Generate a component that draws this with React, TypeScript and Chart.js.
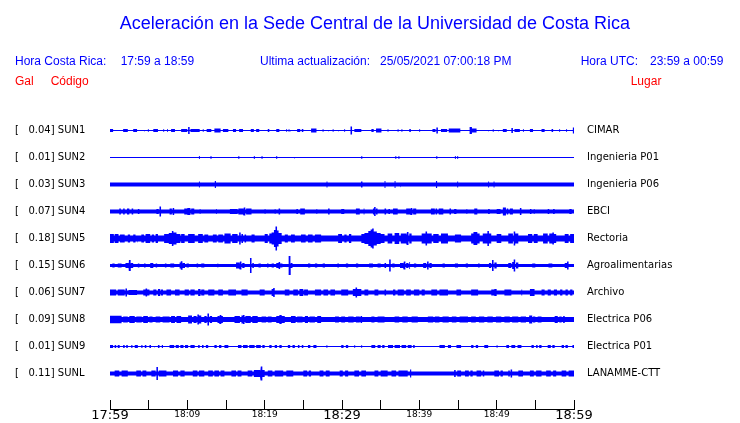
import React, { useEffect, useRef } from 'react';
import { Chart, registerables } from 'chart.js';

Chart.register(...registerables);

// ---------- texts ----------
const TITLE = 'Aceleración en la Sede Central de la Universidad de Costa Rica';
const LOCAL_TIME_LABEL = 'Hora Costa Rica:';
const LOCAL_TIME_RANGE = '17:59 a 18:59';
const UPDATE_LABEL = 'Ultima actualización:';
const UPDATE_VALUE = '25/05/2021 07:00:18 PM';
const UTC_LABEL = 'Hora UTC:';
const UTC_RANGE = '23:59 a 00:59';
const COL_GAL = 'Gal';
const COL_CODE = 'Código';
const COL_PLACE = 'Lugar';

// ---------- stations ----------
const CODES = ['SUN1', 'SUN2', 'SUN3', 'SUN4', 'SUN5', 'SUN6', 'SUN7', 'SUN8', 'SUN9', 'SUNL'];
const PEAK_GAL = ['0.04', '0.01', '0.03', '0.07', '0.18', '0.15', '0.06', '0.09', '0.01', '0.11'];
const PLACES = ['CIMAR', 'Ingenieria P01', 'Ingenieria P06', 'EBCI', 'Rectoria', 'Agroalimentarias', 'Archivo', 'Electrica P06', 'Electrica P01', 'LANAMME-CTT'];

// ---------- time axis (minutes after 17:59) ----------
const TICK_MINUTES = [0, 5, 10, 15, 20, 25, 30, 35, 40, 45, 50, 55, 60];
const TICK_LABELS = ['17:59', '', '18:09', '', '18:19', '', '18:29', '', '18:39', '', '18:49', '', '18:59'];
const MAJOR_LABELS = ['17:59', '18:29', '18:59'];

// ---------- trace envelopes: background level and bursts [start min, end min, half amplitude] ----------
const BASE_LEVEL = [0.5, 0.5, 2, 2, 3, 1.5, 2, 2.5, 0.5, 2];

const SUN1_BURSTS = [
  [0.0, 0.4, 1.5], [1.7, 2.3, 1.5], [3.0, 3.5, 1.5], [4.4, 4.5, 1.5], [4.9, 5.0, 1.5], [5.6, 6.2, 1.5],
  [6.9, 7.0, 1.5], [7.4, 7.5, 1.5], [7.9, 8.4, 1.5], [9.2, 10.0, 1.5], [10.1, 10.3, 3.5], [10.4, 11.6, 1.5],
  [12.0, 12.1, 1.5], [12.5, 13.1, 1.5], [13.5, 14.3, 2], [14.6, 15.3, 1.5], [15.9, 16.3, 1.5], [16.7, 17.2, 1.5],
  [18.2, 18.6, 1.5], [18.9, 19.3, 1.5], [20.4, 20.6, 1.5], [21.5, 21.9, 1.5], [22.8, 22.9, 1.5], [23.1, 23.2, 1.5],
  [23.3, 23.4, 1.5], [24.2, 24.6, 1.5], [24.8, 25.0, 1.5], [26.0, 26.7, 2], [27.5, 27.6, 1.5], [28.2, 28.3, 1.5],
  [28.8, 28.9, 1.5], [29.5, 29.6, 1.5], [30.3, 30.4, 1.5], [31.1, 31.3, 4], [31.6, 32.5, 1.5], [33.8, 34.1, 1.5],
  [34.4, 35.1, 2], [35.9, 36.0, 1.5], [37.2, 37.3, 1.5], [37.7, 37.8, 1.5], [38.7, 38.9, 1.5], [40.0, 40.1, 1.5],
  [41.7, 42.1, 1.5], [42.2, 42.4, 3], [42.8, 43.6, 1.5], [43.8, 45.3, 2], [46.5, 46.8, 3.5], [46.8, 47.4, 2],
  [48.9, 49.0, 1.5], [49.5, 49.6, 1.5], [50.2, 50.3, 1.5], [50.8, 51.3, 1.5], [51.9, 52.1, 2.5], [52.3, 53.0, 1.5],
  [53.4, 53.5, 1.5], [54.3, 54.7, 1.5], [55.8, 56.2, 1.5], [57.1, 57.3, 1.5], [58.1, 58.2, 1.5], [59.0, 59.1, 1.5],
  [59.85, 60, 3],
];

const SUN2_BURSTS = [
  [11.5, 11.62, 1.5], [13.0, 13.12, 1.5], [16.6, 16.72, 1.5], [18.6, 18.72, 1.5], [19.6, 19.72, 1.5],
  [21.5, 21.62, 1.5], [23.8, 23.92, 1.5], [32.5, 32.62, 1.5], [36.9, 37.02, 1.5], [37.3, 37.42, 1.5],
  [42.2, 42.32, 1.5], [44.6, 44.72, 1.5], [44.9, 45.02, 1.5],
];

const SUN3_BURSTS = [
  [11.5, 11.62, 3], [13.55, 13.7, 3.5], [28.0, 28.12, 3], [32.45, 32.65, 3], [35.5, 35.62, 3.5],
  [36.8, 36.92, 3.5], [37.5, 37.62, 3], [42.15, 42.3, 3.5], [44.9, 45.02, 3], [48.9, 49.02, 3], [49.6, 49.72, 3],
];

const SUN4_BURSTS = [
  [1.2, 1.4, 3], [1.7, 1.9, 3], [2.2, 2.5, 3], [2.8, 3.0, 3], [3.6, 3.8, 2.5],
  [6.0, 6.3, 2.5], [6.4, 6.6, 5], [7.7, 8.0, 3], [8.1, 8.3, 3.5],
  [9.6, 10.0, 3], [10.0, 10.4, 3.5], [10.5, 10.9, 3], [11.6, 11.7, 2.5], [13.7, 13.8, 2.5],
  [15.5, 16.5, 2.5], [16.6, 17.2, 3], [17.3, 17.5, 4], [17.6, 18.3, 3],
  [20.0, 20.1, 2.5], [21.3, 21.4, 2.5], [21.8, 22.0, 3], [24.1, 24.3, 2.5], [24.6, 25.2, 3],
  [26.7, 26.8, 2.5], [28.2, 28.4, 3], [29.9, 30.3, 2.5], [31.8, 32.3, 3], [32.8, 32.9, 3],
  [34.0, 34.15, 3], [34.15, 34.35, 4.5], [34.4, 34.6, 3], [35.5, 35.7, 3], [36.0, 36.2, 2.5], [36.6, 37.2, 3],
  [38.3, 38.8, 3], [38.9, 39.1, 3.5], [39.2, 39.6, 3], [41.5, 42.0, 3], [42.1, 42.3, 3], [42.5, 43.1, 3],
  [43.9, 44.1, 3], [44.5, 44.8, 2.5], [46.1, 46.2, 2.5], [47.1, 47.5, 3], [48.9, 49.1, 2.5],
  [50.0, 50.5, 2.5], [50.8, 51.2, 4], [51.3, 51.5, 3], [51.7, 52.1, 3], [53.0, 53.2, 3.5],
  [54.3, 54.5, 2.5], [54.8, 54.9, 2.5], [56.6, 56.8, 2.5], [57.3, 57.5, 2.5], [59.4, 59.7, 2.5],
];

const SUN5_BURSTS = [
  [0, 0.5, 4.5], [0.6, 1.1, 4.5], [1.3, 1.9, 4], [2.3, 2.6, 4], [3.0, 3.3, 4], [3.5, 3.6, 4.5],
  [4.05, 4.4, 4], [4.6, 5.2, 4.5], [5.4, 5.7, 4], [5.9, 6.2, 4.5],
  [7.0, 7.6, 4.5], [7.6, 8.0, 5.5], [8.0, 8.2, 7.5], [8.2, 8.6, 6], [8.6, 9.1, 4.5], [9.2, 9.65, 4.5],
  [10.1, 10.95, 4.5], [11.4, 12.0, 4.5], [12.2, 12.7, 4], [13.3, 13.8, 4], [14.0, 14.6, 4],
  [14.8, 15.6, 5], [15.8, 16.5, 4.5], [16.7, 16.9, 6], [17.0, 17.2, 4.5], [17.4, 17.6, 4], [18.3, 18.7, 4],
  [20.0, 20.4, 4.5], [20.6, 20.9, 5], [20.9, 21.2, 6], [21.2, 21.4, 8.5], [21.4, 21.6, 12], [21.6, 21.8, 8], [21.8, 22.2, 5.5],
  [22.6, 23.0, 4], [23.4, 23.9, 4], [24.7, 25.3, 4], [25.6, 26.2, 4], [26.5, 27.3, 4],
  [29.5, 30.0, 4.5], [30.3, 30.6, 4], [30.9, 31.2, 4.5],
  [32.5, 32.9, 4.5], [32.9, 33.4, 5.5], [33.4, 33.7, 7.5], [33.7, 33.9, 9], [33.9, 34.1, 10], [34.1, 34.5, 7], [34.5, 35.0, 5.5], [35.0, 35.5, 4.5],
  [35.9, 36.5, 5], [36.8, 37.4, 5.5], [37.6, 38.3, 5], [38.4, 38.6, 6.5], [38.7, 39.0, 5],
  [40.3, 40.8, 5], [40.8, 41.0, 7], [41.0, 41.6, 5], [41.8, 42.5, 4.5], [42.8, 43.7, 5],
  [44.6, 45.4, 4], [46.7, 47.0, 5], [47.0, 47.5, 6.5], [47.5, 47.8, 5], [48.2, 48.8, 5], [48.8, 49.0, 7.5], [49.0, 49.3, 5],
  [50.0, 50.6, 4.5], [51.5, 52.1, 5], [52.2, 52.4, 7], [52.4, 52.8, 5],
  [54.05, 54.6, 4.5], [54.8, 55.3, 4.5], [56.0, 56.6, 5], [56.8, 57.2, 5], [57.2, 57.4, 6], [57.4, 57.7, 4.5],
  [58.8, 59.3, 4.5], [59.5, 60, 4.5],
];

const SUN6_BURSTS = [
  [0.3, 0.6, 2], [1.0, 1.5, 2], [2.0, 2.4, 2.5], [2.45, 2.65, 5.5], [2.7, 3.0, 2.5], [3.6, 3.8, 2], [4.4, 4.6, 2],
  [5.2, 5.6, 2.5], [5.9, 6.1, 2], [7.1, 7.3, 2], [7.8, 8.3, 2], [9.0, 9.15, 3], [9.15, 9.35, 4.3], [9.4, 9.7, 2.5],
  [9.9, 10.2, 2], [11.2, 11.4, 2], [11.8, 12.2, 2], [13.9, 14.0, 2],
  [16.3, 16.7, 3], [16.8, 17.0, 4], [17.1, 17.4, 2.5], [18.1, 18.3, 7.5], [18.4, 18.6, 2.5], [19.2, 19.5, 2],
  [20.3, 20.5, 2], [20.9, 21.2, 2], [21.5, 21.8, 2.5], [21.8, 22.0, 3.5], [22.0, 22.3, 2], [23.1, 23.3, 9.5], [23.4, 23.6, 2.5],
  [25.6, 25.9, 2], [26.5, 26.8, 2], [27.5, 27.8, 2], [29.4, 29.6, 2], [30.5, 30.8, 2], [31.8, 32.1, 2],
  [33.5, 34.0, 2], [34.6, 35.0, 2], [35.5, 35.7, 2.5], [36.1, 36.3, 6], [36.5, 36.8, 2], [37.5, 37.9, 2.5],
  [38.0, 38.2, 4], [38.3, 38.6, 2.5], [38.7, 38.8, 3.5], [39.3, 39.6, 2], [40.5, 40.9, 2.5], [41.0, 41.2, 4],
  [41.3, 41.6, 2.5], [43.0, 43.3, 2], [44.6, 45.0, 2], [46.0, 46.3, 2], [47.6, 47.8, 2],
  [49.0, 49.3, 2.5], [49.4, 49.6, 5.5], [49.7, 50.0, 3], [51.5, 51.9, 2.5], [52.0, 52.2, 3.5], [52.2, 52.4, 6],
  [52.5, 52.8, 3], [54.6, 55.0, 2], [56.7, 57.2, 2], [58.8, 59.1, 2.5], [59.1, 59.3, 4],
];

const SUN7_BURSTS = [
  [0, 0.8, 3], [1.0, 1.9, 3], [2.0, 2.2, 4], [2.4, 3.5, 2.5], [4.3, 4.6, 3], [4.6, 4.8, 4], [4.8, 5.1, 3],
  [5.6, 6.0, 3], [6.2, 6.5, 3.5], [6.6, 6.85, 3], [7.3, 7.9, 3], [8.4, 9.0, 3], [9.65, 10.2, 3], [10.4, 10.95, 3],
  [11.4, 11.7, 3.5], [11.8, 12.2, 3], [12.7, 13.5, 3], [14.0, 14.6, 3], [15.3, 16.3, 3], [17.0, 17.8, 3],
  [19.35, 20.0, 3], [20.9, 21.1, 3.5], [21.1, 21.3, 4.5], [22.6, 23.2, 3], [23.7, 24.3, 3], [24.5, 25.0, 3.5],
  [25.1, 25.6, 3], [26.5, 27.3, 3], [27.6, 28.2, 3], [28.5, 29.1, 3], [29.9, 30.8, 3], [31.4, 31.75, 3.5],
  [31.75, 31.95, 5], [31.95, 32.5, 3.5], [32.9, 33.4, 3], [34.2, 34.7, 3], [35.5, 35.7, 3], [36.6, 36.9, 3],
  [37.2, 38.0, 3], [38.3, 38.9, 3], [39.3, 40.0, 3], [40.3, 40.7, 3], [41.55, 42.3, 3], [42.6, 43.7, 3],
  [44.8, 45.4, 3], [46.7, 47.6, 3], [49.3, 49.7, 3], [49.7, 50.0, 3.5], [51.0, 51.9, 3], [53.2, 53.3, 3],
  [54.3, 54.9, 3.5], [55.8, 56.2, 3], [56.6, 57.0, 3], [57.4, 57.8, 3], [58.2, 58.5, 3], [58.9, 59.2, 3], [59.5, 59.8, 3],
];

const SUN8_BURSTS = [
  [0, 1.5, 3.7], [1.7, 2.3, 3], [2.5, 3.2, 3.5], [3.4, 4.1, 3], [4.3, 4.9, 3.5], [5.1, 5.5, 3], [5.9, 6.5, 3],
  [6.8, 7.7, 3], [7.9, 8.4, 3.5], [8.6, 9.2, 3.5], [10.1, 10.6, 4], [10.8, 11.2, 3.5], [11.3, 11.5, 5],
  [11.5, 11.8, 4], [12.2, 12.5, 3.5], [12.6, 12.8, 6], [12.9, 13.2, 3.5], [13.9, 14.1, 3.5], [14.2, 14.4, 4.5],
  [14.4, 14.6, 3.5], [16.1, 16.8, 3.5], [17.0, 17.2, 4], [17.2, 17.4, 4.5], [17.5, 18.2, 3.5], [18.4, 19.1, 3.5],
  [19.6, 20.2, 3], [20.4, 20.9, 3], [21.5, 21.9, 3.5], [21.9, 22.2, 4.5], [22.2, 22.6, 3.5], [23.4, 24.0, 3.5],
  [24.2, 24.9, 3], [25.2, 25.6, 3.5], [25.8, 26.5, 3], [26.8, 27.3, 3.5], [29.1, 29.6, 3], [29.9, 30.4, 3],
  [30.8, 31.5, 3], [31.8, 32.3, 3], [32.4, 32.6, 3.5], [33.8, 34.2, 3], [34.6, 35.5, 3], [36.8, 37.4, 3],
  [37.8, 38.5, 3], [39.0, 39.8, 3], [41.1, 41.8, 3], [42.0, 42.6, 3], [43.0, 43.8, 3], [44.2, 44.8, 3],
  [45.2, 46.3, 3], [46.7, 47.3, 3], [47.7, 48.4, 3], [48.8, 49.5, 3], [49.9, 50.6, 3], [51.0, 51.7, 3],
  [52.0, 52.8, 3], [53.1, 53.8, 3], [54.2, 54.6, 4], [54.7, 55.0, 3], [55.3, 55.8, 3], [57.5, 57.9, 3.5],
  [58.1, 58.4, 3], [58.6, 58.8, 3.5],
];

const SUN9_BURSTS = [
  [0, 0.4, 1.5], [0.6, 0.8, 1.5], [1.0, 1.25, 1.5], [1.7, 1.9, 1.5], [2.1, 2.3, 1.5], [2.75, 2.9, 1.5],
  [3.2, 3.6, 1.5], [4.05, 4.2, 1.5], [4.5, 4.7, 1.5], [5.1, 5.3, 1.5], [5.7, 5.8, 1.5], [6.2, 6.4, 1.5],
  [6.7, 6.85, 1.5], [7.7, 8.3, 1.5], [8.5, 8.9, 1.5], [9.1, 9.5, 1.5], [9.7, 10.1, 1.5], [10.4, 10.95, 1.5],
  [11.4, 11.6, 1.5], [11.9, 12.1, 1.5], [12.4, 12.7, 1.5], [13.5, 13.8, 1.5], [14.1, 14.4, 1.5], [14.8, 15.3, 1.5],
  [16.55, 17.0, 1.5], [17.2, 17.8, 1.5], [18.0, 18.7, 1.5], [18.9, 19.5, 1.5], [19.7, 20.0, 1.5], [20.6, 20.9, 1.5],
  [21.3, 21.6, 1.5], [21.9, 22.2, 1.5], [23.0, 23.3, 1.5], [23.6, 23.9, 1.5], [24.3, 24.5, 1.5], [24.8, 25.0, 1.5],
  [25.6, 25.9, 1.5], [26.3, 26.7, 1.5], [28.0, 28.1, 1.5], [29.9, 30.2, 1.5], [30.5, 30.8, 1.5], [31.6, 31.7, 1.5],
  [32.5, 32.6, 1.5], [33.8, 34.3, 1.5], [34.6, 35.0, 1.5], [35.2, 35.5, 1.5], [35.95, 36.6, 1.5], [36.8, 37.5, 1.5],
  [37.7, 38.3, 1.5], [38.5, 39.0, 1.5], [39.2, 39.4, 1.5], [42.6, 43.3, 1.5], [43.7, 44.1, 1.5], [44.8, 45.4, 1.5],
  [46.7, 47.0, 1.5], [47.3, 47.6, 1.5], [48.4, 48.9, 1.5], [50.0, 50.1, 1.5], [51.25, 51.6, 1.5], [51.9, 52.4, 1.5],
  [52.7, 53.2, 1.5], [54.5, 54.8, 1.5], [55.1, 55.3, 1.5], [55.5, 55.8, 1.5], [56.6, 57.0, 1.5], [57.2, 57.5, 1.5],
  [58.4, 58.7, 1.5], [58.9, 59.2, 1.5], [59.8, 60, 1.5],
];

const SUNL_BURSTS = [
  [0.6, 1.2, 3], [1.5, 2.3, 3], [3.4, 4.0, 3], [4.2, 4.7, 3], [5.35, 5.9, 3], [6.0, 6.2, 6.5], [6.3, 7.3, 3],
  [8.15, 8.8, 3], [9.1, 9.65, 3], [10.7, 11.3, 3], [11.5, 12.2, 3], [12.7, 13.3, 3], [13.5, 14.1, 3],
  [14.3, 14.8, 3], [15.7, 16.3, 3], [16.5, 17.0, 3], [17.8, 18.4, 3], [18.6, 19.4, 3.5], [19.5, 19.7, 7],
  [19.7, 20.0, 3.5], [20.4, 21.0, 3], [21.3, 22.4, 3], [22.8, 23.7, 3], [25.0, 25.5, 3], [25.7, 26.0, 3],
  [27.1, 27.6, 3], [27.9, 28.4, 3], [29.7, 30.1, 3], [30.4, 30.8, 3], [31.6, 32.2, 3], [32.5, 33.1, 3],
  [34.2, 34.7, 3], [35.0, 35.9, 3], [36.4, 37.0, 3], [37.3, 38.5, 3], [38.8, 38.95, 4], [44.5, 44.7, 3.5],
  [44.9, 45.4, 3], [45.9, 46.4, 3], [46.6, 46.9, 3], [47.4, 48.0, 3], [48.2, 48.4, 3], [49.7, 50.3, 3],
  [50.5, 50.8, 3], [51.5, 51.7, 3], [51.8, 52.0, 4], [52.8, 53.4, 3], [54.3, 54.8, 3], [55.1, 55.8, 3],
  [56.4, 57.0, 3], [57.3, 57.7, 3], [58.4, 59.0, 3], [59.3, 60, 3],
];

const TRACE_BURSTS = [
  SUN1_BURSTS, SUN2_BURSTS, SUN3_BURSTS, SUN4_BURSTS, SUN5_BURSTS,
  SUN6_BURSTS, SUN7_BURSTS, SUN8_BURSTS, SUN9_BURSTS, SUNL_BURSTS,
];

// ---------- styling / layout ----------
const TRACE_COLOR = '#0000ff';
const HEAD_BLUE = '#0000ff';
const HEAD_RED = '#ff0000';
const TRACE_SPACING = 27;
const DURATION = 60;
const SANS = '"Liberation Sans", Arial, sans-serif';
const DEJAVU = '"DejaVu Sans", sans-serif';

// Outline of one side of a trace: square-edged blocks for each burst.
function envelope(base: number, bursts: number[][], offset: number, sign: number) {
  const sorted = [...bursts].sort((a, b) => a[0] - b[0]);
  const pts: { x: number; y: number }[] = [{ x: 0, y: offset + sign * base }];
  for (const [s, e, a] of sorted) {
    pts.push({ x: s, y: offset + sign * base });
    pts.push({ x: s, y: offset + sign * a });
    pts.push({ x: e, y: offset + sign * a });
    pts.push({ x: e, y: offset + sign * base });
  }
  pts.push({ x: DURATION, y: offset + sign * base });
  return pts;
}

function HeadText(props: { x: number; base: number; size: number; color: string; text: string; width?: number; center?: boolean }) {
  const { x, base, size, color, text, width, center } = props;
  return (
    <div
      style={{
        position: 'absolute',
        left: x,
        top: base - 0.8465 * size,
        width: width,
        textAlign: center ? 'center' : 'left',
        fontFamily: SANS,
        fontSize: size,
        lineHeight: `${size}px`,
        color,
        whiteSpace: 'pre',
      }}
    >
      {text}
    </div>
  );
}

export default function App() {
  const canvasRef = useRef<HTMLCanvasElement | null>(null);

  useEffect(() => {
    const canvas = canvasRef.current;
    if (!canvas) return;

    const datasets: any[] = [];
    TRACE_BURSTS.forEach((bursts, i) => {
      const offset = i * TRACE_SPACING;
      datasets.push({
        data: envelope(BASE_LEVEL[i], bursts, offset, 1),
        borderWidth: 0,
        pointRadius: 0,
        tension: 0,
        fill: '+1',
        backgroundColor: TRACE_COLOR,
        borderColor: TRACE_COLOR,
        yAxisID: 'y',
      });
      datasets.push({
        data: envelope(BASE_LEVEL[i], bursts, offset, -1),
        borderWidth: 0,
        pointRadius: 0,
        tension: 0,
        fill: false,
        backgroundColor: TRACE_COLOR,
        borderColor: TRACE_COLOR,
        yAxisID: 'y',
      });
    });

    const leftLabels = CODES.map((c, i) => `[${PEAK_GAL[i].padStart(7)}] ${c}`);
    const traceTicks = () => CODES.map((_, i) => ({ value: i * TRACE_SPACING }));
    const yMin = -TRACE_SPACING / 2;
    const yMax = 278.5;

    const chart = new Chart(canvas, {
      type: 'line',
      data: { datasets },
      options: {
        animation: false,
        responsive: false,
        maintainAspectRatio: false,
        events: [],
        parsing: false,
        layout: { padding: { left: 15, right: 0, top: 117, bottom: 0 } },
        plugins: { legend: { display: false }, tooltip: { enabled: false }, title: { display: false } },
        scales: {
          x: {
            type: 'linear',
            min: 0,
            max: DURATION,
            afterBuildTicks: (axis: any) => {
              axis.ticks = TICK_MINUTES.map((v) => ({ value: v }));
            },
            afterFit: (axis: any) => {
              axis.height = 14;
            },
            grid: {
              display: true,
              drawOnChartArea: false,
              drawTicks: true,
              tickLength: -9,
              color: '#000',
              lineWidth: 1,
            },
            border: { display: true, color: '#000', width: 1 },
            ticks: {
              autoSkip: false,
              maxRotation: 0,
              minRotation: 0,
              padding: 9,
              color: '#000',
              callback: (_v: any, idx: number) => TICK_LABELS[idx],
              font: (ctx: any) => {
                const lbl = TICK_LABELS[ctx.index];
                return MAJOR_LABELS.includes(lbl)
                  ? { family: DEJAVU, size: 13, lineHeight: 1.05 }
                  : { family: DEJAVU, size: 9, lineHeight: 1.25 };
              },
            },
          },
          y: {
            type: 'linear',
            position: 'left',
            reverse: true,
            min: yMin,
            max: yMax,
            afterBuildTicks: (axis: any) => {
              axis.ticks = traceTicks();
            },
            afterFit: (axis: any) => {
              axis.width = 95;
            },
            grid: { display: false, drawTicks: false },
            border: { display: false },
            ticks: {
              autoSkip: false,
              crossAlign: 'far',
              padding: 0,
              color: '#000',
              font: { family: DEJAVU, size: 10 },
              callback: (_v: any, idx: number) => leftLabels[idx],
            },
          },
          yR: {
            type: 'linear',
            position: 'right',
            reverse: true,
            min: yMin,
            max: yMax,
            afterBuildTicks: (axis: any) => {
              axis.ticks = traceTicks();
            },
            afterFit: (axis: any) => {
              axis.width = 166;
            },
            grid: { display: false, drawTicks: true, tickLength: 13 },
            border: { display: false },
            ticks: {
              autoSkip: false,
              crossAlign: 'near',
              padding: 0,
              color: '#000',
              font: { family: DEJAVU, size: 10 },
              callback: (_v: any, idx: number) => PLACES[idx],
            },
          },
        },
      } as any,
    });

    return () => {
      chart.destroy();
    };
  }, []);

  return (
    <div style={{ position: 'fixed', left: 0, top: 0, width: 740, height: 423, background: '#fff', overflow: 'hidden' }}>
      <canvas ref={canvasRef} width={740} height={423} style={{ position: 'absolute', left: 0, top: 0, display: 'block' }} />
      <HeadText x={0} width={750} center base={29} size={18} color={HEAD_BLUE} text={TITLE} />
      <HeadText x={15} base={65} size={12} color={HEAD_BLUE} text={LOCAL_TIME_LABEL} />
      <HeadText x={120.7} base={65} size={12} color={HEAD_BLUE} text={LOCAL_TIME_RANGE} />
      <HeadText x={260} base={65} size={12} color={HEAD_BLUE} text={UPDATE_LABEL} />
      <HeadText x={380} base={65} size={12} color={HEAD_BLUE} text={UPDATE_VALUE} />
      <HeadText x={580.7} base={65} size={12} color={HEAD_BLUE} text={UTC_LABEL} />
      <HeadText x={650} base={65} size={12} color={HEAD_BLUE} text={UTC_RANGE} />
      <HeadText x={15} base={85} size={12} color={HEAD_RED} text={COL_GAL} />
      <HeadText x={50.7} base={85} size={12} color={HEAD_RED} text={COL_CODE} />
      <HeadText x={630.7} base={85} size={12} color={HEAD_RED} text={COL_PLACE} />
    </div>
  );
}
